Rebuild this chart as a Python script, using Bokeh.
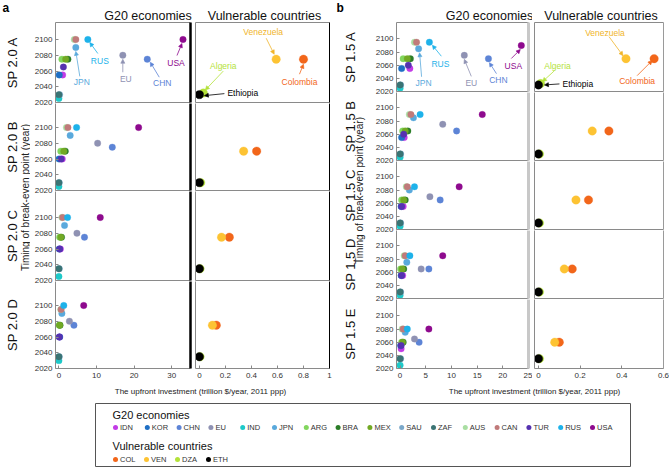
import math
from bokeh.plotting import figure
from bokeh.layouts import row, column
from bokeh.models import (Range1d, FixedTicker, LinearAxis, Arrow, NormalHead,
                          CustomJSTickFormatter)
from bokeh.core.properties import value
from bokeh.embed import file_html
from bokeh.resources import INLINE

FONT = "Liberation Sans"

# ---------------------------------------------------------------- data
g20_codes = ["IDN", "KOR", "CHN", "EU", "IND", "JPN", "ARG", "BRA",
             "MEX", "SAU", "ZAF", "AUS", "CAN", "TUR", "RUS", "USA"]
g20_colors = ["#c23be6", "#1f6fc4", "#5d84d6", "#8f92b3", "#1ec9c9", "#5aa9dc",
              "#82d65e", "#2b7d28", "#72a924", "#7ba8c9", "#3b7474", "#a9dea2",
              "#c07a7a", "#5532b0", "#1db2ea", "#8e0a8e"]
vul_codes = ["COL", "VEN", "DZA", "ETH"]
vul_names = ["Colombia", "Venezuela", "Algeria", "Ethiopia"]
vul_colors = ["#f2661a", "#fdc333", "#b4e23a", "#000000"]

rows_20 = ["SP 2.0 A", "SP 2.0 B", "SP 2.0 C", "SP 2.0 D"]
rows_15 = ["SP 1.5 A", "SP 1.5 B", "SP 1.5 C", "SP 1.5 D", "SP 1.5 E"]

# G20 upfront investment (trillion $/yr) and break-even year, order of g20_codes
inv_20A = [1.0, 0.1, 23.5, 17.0, 0.0, 4.5, 0.8, 2.4, 1.8, 0.2, 0.0, 4.1, 4.5, 1.2, 7.7, 33.0]
yr_20A = [2055, 2055, 2075, 2080, 2025, 2090, 2075, 2075, 2075, 2030, 2030, 2100, 2100, 2065, 2100, 2100]
inv_20B = [0.9, 0.05, 14.2, 10.3, 0.0, 3.0, 0.5, 1.7, 1.3, 0.1, 0.0, 2.0, 2.4, 0.6, 4.7, 21.2]
yr_20B = [2060, 2060, 2075, 2080, 2025, 2090, 2070, 2070, 2070, 2030, 2030, 2100, 2100, 2060, 2100, 2100]
inv_20C = [0.4, 0.1, 6.8, 4.8, 0.0, 1.5, 0.2, 0.7, 0.5, 0.1, 0.0, 0.8, 1.0, 0.2, 2.3, 11.0]
yr_20C = [2060, 2060, 2075, 2080, 2025, 2090, 2075, 2075, 2075, 2035, 2035, 2100, 2100, 2060, 2100, 2100]
inv_20D = [0.2, 0.2, 4.0, 2.8, 0.0, 0.8, 0.1, 0.3, 0.2, 0.1, 0.0, 0.5, 0.6, 0.1, 1.3, 6.6]
yr_20D = [2060, 2060, 2075, 2080, 2030, 2090, 2075, 2075, 2075, 2035, 2035, 2095, 2095, 2060, 2100, 2100]

inv_15A = [1.9, 0.3, 17.2, 12.5, 0.0, 3.6, 0.6, 2.0, 1.4, 0.1, 0.0, 2.8, 3.2, 1.6, 5.7, 23.6]
yr_15A = [2055, 2055, 2070, 2075, 2025, 2085, 2070, 2070, 2070, 2030, 2030, 2095, 2095, 2060, 2095, 2090]
inv_15B = [0.8, 0.3, 11.0, 8.3, 0.0, 2.6, 0.5, 1.5, 1.0, 0.1, 0.0, 1.8, 2.1, 0.7, 3.9, 16.0]
yr_15B = [2055, 2055, 2065, 2075, 2025, 2085, 2065, 2065, 2065, 2030, 2030, 2090, 2090, 2060, 2090, 2090]
inv_15C = [0.6, 0.2, 7.8, 5.8, 0.0, 1.8, 0.3, 1.0, 0.7, 0.1, 0.0, 1.2, 1.4, 0.3, 2.8, 11.5]
yr_15C = [2055, 2055, 2065, 2070, 2025, 2080, 2065, 2065, 2065, 2030, 2030, 2085, 2085, 2055, 2085, 2085]
inv_15D = [0.5, 0.2, 5.6, 4.1, 0.0, 1.3, 0.1, 0.7, 0.4, 0.1, 0.0, 0.8, 1.0, 0.3, 1.9, 8.3]
yr_15D = [2055, 2055, 2065, 2065, 2025, 2075, 2065, 2065, 2065, 2030, 2030, 2085, 2085, 2055, 2085, 2085]
inv_15E = [0.2, 0.1, 3.7, 2.8, 0.0, 1.0, 0.3, 0.6, 0.45, 0.1, 0.0, 0.4, 0.6, 0.2, 1.4, 5.6]
yr_15E = [2050, 2055, 2060, 2065, 2025, 2075, 2060, 2060, 2060, 2035, 2035, 2080, 2080, 2055, 2080, 2080]

# vulnerable countries, order of vul_codes
vinv_20A = [0.80, 0.59, 0.03, 0.0]
vyr_20A = [2075, 2075, 2032, 2030]
vinv_20B = [0.44, 0.34, 0.01, 0.0]
vyr_20B = [2070, 2070, 2030, 2030]
vinv_20C = [0.23, 0.17, 0.005, 0.0]
vyr_20C = [2075, 2075, 2035, 2035]
vinv_20D = [0.13, 0.10, 0.005, 0.0]
vyr_20D = [2075, 2075, 2035, 2035]

vinv_15A = [0.555, 0.42, 0.01, 0.0]
vyr_15A = [2070, 2070, 2032, 2030]
vinv_15B = [0.338, 0.258, 0.005, 0.0]
vyr_15B = [2065, 2065, 2030, 2030]
vinv_15C = [0.24, 0.18, 0.005, 0.0]
vyr_15C = [2065, 2065, 2030, 2030]
vinv_15D = [0.162, 0.124, 0.005, 0.0]
vyr_15D = [2065, 2065, 2030, 2030]
vinv_15E = [0.10, 0.078, 0.005, 0.0]
vyr_15E = [2060, 2060, 2035, 2035]

year_ticks = [2020, 2040, 2060, 2080, 2100]
xticks_g20_a = [0, 10, 20, 30]
xticks_vul_a = [0, 0.2, 0.4, 0.6, 0.8, 1.0]
xticks_g20_b = [0, 5, 10, 15, 20, 25]
xticks_vul_b = [0, 0.2, 0.4, 0.6]

x_title = "The upfront investment (trillion $/year, 2011 ppp)"
y_title = "Timing of break-even point (year)"

# annotation offsets in screen pixels (dx right, dy down): text, arrow start, arrow end
ann_g20_a = {"RUS": ((12, 21), (10, 14), (2, 3)),
             "JPN": ((6, 35), (4, 29), (0, 4)),
             "EU": ((3, 24), (0, 17), (0, 4)),
             "CHN": ((15, 24), (12, 18), (3, 3)),
             "USA": ((-7, 23), (-6, 16), (-1, 4))}
ann_vul_a = {"VEN": ((-13, -27), (-10, -21), (-2, -5)),
             "COL": ((-4, 23), (-4, 15), (0, 5)),
             "DZA": ((20, -27), (20, -22), (2, -3)),
             "ETH": ((28, -2), (25, -1), (5, 1))}
ann_g20_b = {"RUS": ((11, 22), (12, 14), (3, 3)),
             "JPN": ((5, 34), (3, 28), (1, 4)),
             "EU": ((7, 28), (7, 21), (0, 4)),
             "CHN": ((10, 21), (8, 15), (1, 4)),
             "USA": ((-8, 20), (-10, 13), (-1, 4))}
ann_vul_b = {"VEN": ((-21, -26), (-17, -22), (-3, -3)),
             "COL": ((-17, 22), (-17, 17), (-2, 2)),
             "DZA": ((17, -18), (14, -13), (2, -2)),
             "ETH": ((24, -1), (21, -1), (6, 0))}

GREY = "#8a8a8a"
LABEL_C = "#333333"
HDR_H = 21
XT_H = 15
PAD = 6          # transparent top/bottom border of stacked rows (rows overlap by 2*PAD-1)


def base_fig(fw, fh, xr, yr, bl=0, br=0, bt=0, bb=0, margin=None):
    kw = {}
    if margin is not None:
        kw["margin"] = margin
    p = figure(frame_width=fw, frame_height=fh, x_range=Range1d(*xr), y_range=Range1d(*yr),
               min_border_left=bl, min_border_right=br, min_border_top=bt, min_border_bottom=bb,
               toolbar_location=None, output_backend="svg",
               x_axis_location=None, y_axis_location=None, **kw)
    p.grid.visible = False
    p.outline_line_color = None
    p.background_fill_color = "white"
    p.border_fill_color = "white"
    return p


def text_fig(w, h):
    return base_fig(w, h, (0, w), (0, h))


def add_axis(p, side, ticks, color=GREY, width=1.0, tick_in=3, fmt=None,
             size="8px", standoff=3):
    ax = LinearAxis(ticker=FixedTicker(ticks=list(ticks)))
    ax.axis_line_color = color
    ax.axis_line_width = width
    ax.major_tick_line_color = color if ticks else None
    ax.major_tick_in = tick_in
    ax.major_tick_out = 0
    ax.minor_tick_line_color = None
    ax.major_label_text_font = FONT
    ax.major_label_text_color = LABEL_C
    ax.major_label_text_font_size = size
    ax.major_label_standoff = standoff if ticks else 0
    if fmt is not None:
        ax.formatter = fmt
    p.add_layout(ax, side)
    return ax


def annotate(p, xs, ys, codes, names, colors, ann, fw, fh):
    xr, yr = p.x_range, p.y_range
    ux = (xr.end - xr.start) / fw
    uy = (yr.end - yr.start) / fh
    for code, name, x, y, c in zip(codes, names, xs, ys, colors):
        if code not in ann:
            continue
        (tx, ty), (sx, sy), (ex, ey) = ann[code]
        align = "left" if code == "ETH" else "center"
        lc = c if c != "#fdc333" else "#f0b429"
        p.text(x=[x], y=[y], text=[name], x_offset=tx, y_offset=ty,
               text_color=lc, text_font=value(FONT), text_font_size="8.5px",
               text_align=align, text_baseline="middle")
        p.add_layout(Arrow(end=NormalHead(size=4, fill_color=lc, line_color=lc, line_width=0.6),
                           x_start=x + sx * ux, y_start=y - sy * uy,
                           x_end=x + ex * ux, y_end=y - ey * uy,
                           line_color=lc, line_width=0.8))


vul_fmt = CustomJSTickFormatter(code="return (Math.round(tick*10)/10).toString();")


def build_panel(cfg):
    n = len(cfg["rows"])
    gw = cfg["g_bl"] + cfg["g_fw"] + cfg["g_br"]
    vw = cfg["v_bl"] + cfg["v_fw"] + cfg["v_br"]

    hg = text_fig(gw, HDR_H)
    hg.text(x=[cfg["g_bl"] + cfg["g_fw"] / 2], y=[HDR_H - 15], text=["G20 economies"],
            text_font=value(FONT), text_font_size="12.5px", text_align="center",
            text_baseline="alphabetic", text_color="#111111")
    hv = text_fig(vw, HDR_H)
    hv.text(x=[cfg["v_bl"] + cfg["v_fw"] / 2], y=[HDR_H - 15], text=["Vulnerable countries"],
            text_font=value(FONT), text_font_size="12.5px", text_align="center",
            text_baseline="alphabetic", text_color="#111111")
    gcol, vcol = [hg], [hv]

    centers = []
    yy = HDR_H
    for r in range(n):
        top, bottom = r == 0, r == n - 1
        fh = cfg["frame_h"][r]
        yr = (2020, 2020 + fh / cfg["k"])
        bt = 1 if top else PAD
        bb = 16 if bottom else PAD
        margin = None if top else (-(2 * PAD - 1), 0, 0, 0)
        if not top:
            yy -= 2 * PAD - 1
        centers.append(yy + bt + fh / 2)
        yy += bt + fh + bb
        inv, yrs = cfg["g20"][r]
        vinv, vyrs = cfg["vul"][r]

        g = base_fig(cfg["g_fw"], fh, cfg["g_xr"], yr, cfg["g_bl"], cfg["g_br"], bt, bb, margin)
        g.border_fill_alpha = 0
        add_axis(g, "left", year_ticks)
        if bottom:
            add_axis(g, "below", cfg["g_xt"], standoff=4)
        else:
            add_axis(g, "below", [])
        if top:
            add_axis(g, "above", [])
        add_axis(g, "right", [], color=cfg["sep_c"], width=cfg["sep_w"])
        g.scatter(x=inv, y=yrs, size=6.5, fill_color=g20_colors, line_color=g20_colors,
                  line_width=0.3)
        if top:
            annotate(g, inv, yrs, g20_codes, g20_codes, g20_colors, cfg["ann_g"],
                     cfg["g_fw"], fh)
        gcol.append(g)

        v = base_fig(cfg["v_fw"], fh, cfg["v_xr"], yr, cfg["v_bl"], cfg["v_br"], bt, bb, margin)
        v.border_fill_alpha = 0
        add_axis(v, "left", [])
        if bottom:
            add_axis(v, "below", cfg["v_xt"], fmt=vul_fmt, standoff=4)
        else:
            add_axis(v, "below", [])
        if top:
            add_axis(v, "above", [])
        add_axis(v, "right", [], color=cfg["vr_c"])
        v.scatter(x=vinv, y=vyrs, size=8.5, fill_color=vul_colors, line_color=vul_colors,
                  line_width=0.3)
        if top:
            annotate(v, vinv, vyrs, vul_codes, vul_names, vul_colors, cfg["ann_v"],
                     cfg["v_fw"], fh)
        vcol.append(v)

    # x-axis title
    xt = text_fig(gw + vw, XT_H)
    xt.text(x=[cfg["xtitle_x"]], y=[XT_H - 7], text=[x_title], text_font=value(FONT),
            text_font_size="8px", text_align="center", text_baseline="middle",
            text_color="#222222")

    # left strip: panel letter, row labels, y-axis title
    total_h = yy + XT_H
    st = text_fig(cfg["strip_w"], total_h)
    st.text(x=[cfg["letter_x"]], y=[total_h], text=[cfg["letter"]],
            text_font=value(FONT), text_font_size="12px", text_font_style="bold",
            text_align="left", text_baseline="top", text_color="#000000")
    st.text(x=[cfg["row_x"]] * n, y=[total_h - c for c in centers], text=cfg["rows"],
            angle=math.pi / 2, text_font=value(FONT), text_font_size="13px",
            text_align="center", text_baseline="middle", text_color="#111111")
    st.text(x=[cfg["ytitle_x"]], y=[total_h - cfg["ytitle_y"]], text=[y_title],
            angle=math.pi / 2, text_font=value(FONT), text_font_size="10px",
            text_align="center", text_baseline="middle", text_color="#222222")

    return row(st, column(row(column(*gcol), column(*vcol)), xt))


cfg_a = dict(rows=rows_20,
             g20=[(inv_20A, yr_20A), (inv_20B, yr_20B), (inv_20C, yr_20C), (inv_20D, yr_20D)],
             vul=[(vinv_20A, vyr_20A), (vinv_20B, vyr_20B), (vinv_20C, vyr_20C), (vinv_20D, vyr_20D)],
             frame_h=[80, 87, 89, 87], k=0.7875,
             g_fw=135, g_bl=25, g_br=3, g_xr=(-0.9, 35), g_xt=xticks_g20_a,
             v_fw=134, v_bl=2, v_br=5, v_xr=(-0.03, 1.0), v_xt=xticks_vul_a,
             sep_c="#000000", sep_w=2.5, vr_c="#000000",
             ann_g=ann_g20_a, ann_v=ann_vul_a, xtitle_x=170,
             strip_w=30, letter="a", letter_x=2, row_x=12, ytitle_x=25, ytitle_y=197)

cfg_b = dict(rows=rows_15,
             g20=[(inv_15A, yr_15A), (inv_15B, yr_15B), (inv_15C, yr_15C), (inv_15D, yr_15D),
                  (inv_15E, yr_15E)],
             vul=[(vinv_15A, vyr_15A), (vinv_15B, vyr_15B), (vinv_15C, vyr_15C),
                  (vinv_15D, vyr_15D), (vinv_15E, vyr_15E)],
             frame_h=[69, 68, 68, 68, 69], k=0.657,
             g_fw=132, g_bl=27, g_br=4, g_xr=(-0.7, 25), g_xt=xticks_g20_b,
             v_fw=129, v_bl=2, v_br=6, v_xr=(-0.019, 0.6), v_xt=xticks_vul_b,
             sep_c="#c8c8c8", sep_w=3, vr_c="#9a9a9a",
             ann_g=ann_g20_b, ann_v=ann_vul_b, xtitle_x=165,
             strip_w=35, letter="b", letter_x=2, row_x=16, ytitle_x=25, ytitle_y=190)

panel_a = build_panel(cfg_a)
panel_b = build_panel(cfg_b)

# ---------------------------------------------------------------- legend box
LW, LH = 535, 63
leg = base_fig(LW, LH, (0, LW), (0, LH), bl=95, br=39, bt=4, bb=2)
leg.outline_line_color = "#555555"
leg.outline_line_width = 1
g_x = [20 + i * 31.8 for i in range(len(g20_codes))]
v_x = [20 + i * 31 for i in range(len(vul_codes))]
leg.text(x=[17], y=[LH - 11], text=["G20 economies"], text_font=value(FONT),
         text_font_size="11px", text_align="left", text_baseline="middle", text_color="#111111")
leg.scatter(x=g_x, y=[LH - 24] * len(g_x), size=5, fill_color=g20_colors, line_color=None)
leg.text(x=[x + 4.5 for x in g_x], y=[LH - 24] * len(g_x), text=g20_codes,
         text_font=value(FONT), text_font_size="7.5px", text_align="left",
         text_baseline="middle", text_color="#333333")
leg.text(x=[17], y=[LH - 42], text=["Vulnerable countries"], text_font=value(FONT),
         text_font_size="11px", text_align="left", text_baseline="middle", text_color="#111111")
leg.scatter(x=v_x, y=[LH - 56] * len(v_x), size=5, fill_color=vul_colors, line_color=None)
leg.text(x=[x + 4.5 for x in v_x], y=[LH - 56] * len(v_x), text=vul_codes,
         text_font=value(FONT), text_font_size="7.5px", text_align="left",
         text_baseline="middle", text_color="#333333")

layout = column(row(panel_a, panel_b), leg)

open("out.html", "w").write(file_html(layout, INLINE))
